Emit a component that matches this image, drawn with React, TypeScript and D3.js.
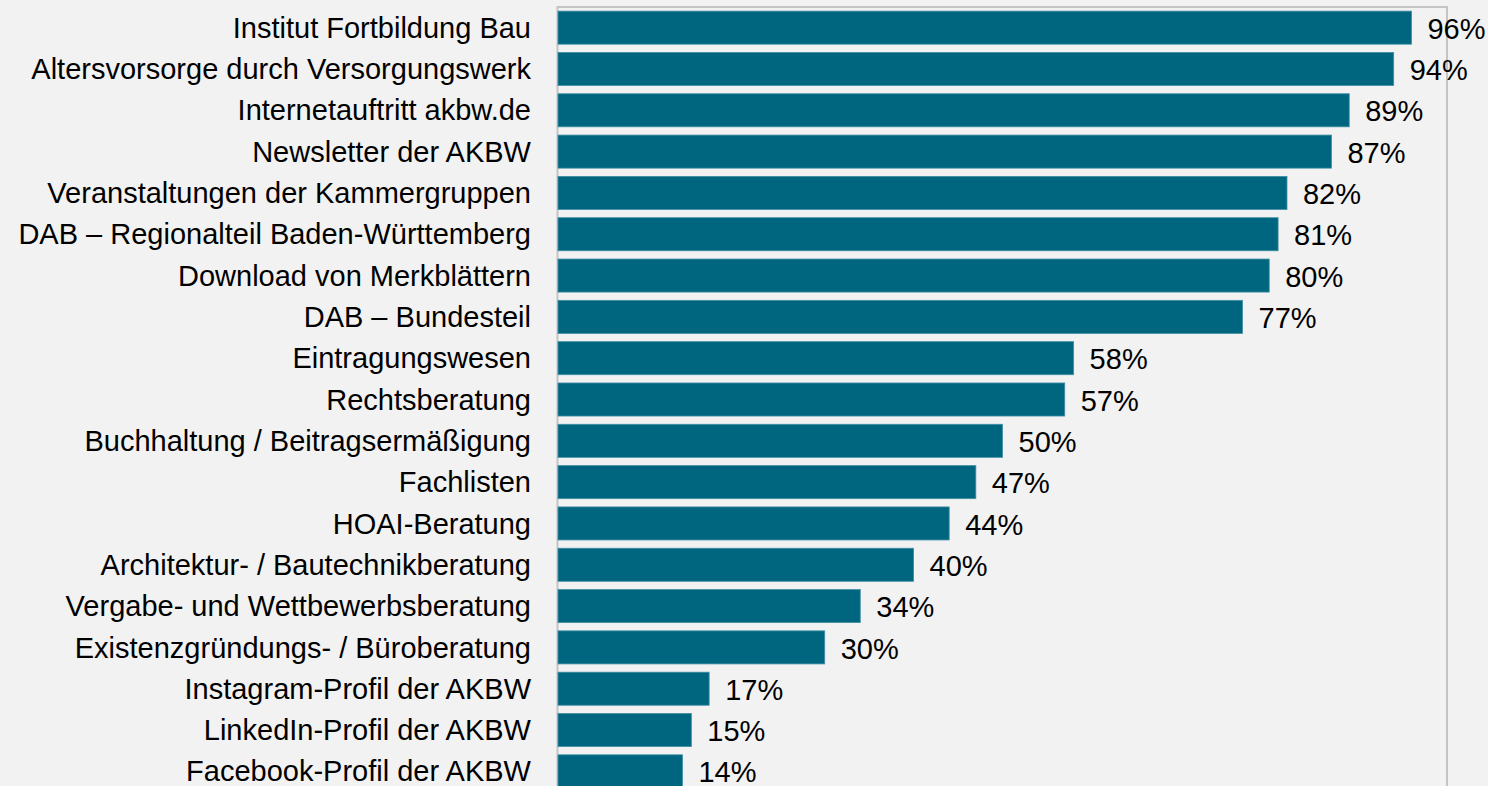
import React from "react";
import * as d3 from "d3";

const categories = [
  "Institut Fortbildung Bau",
  "Altersvorsorge durch Versorgungswerk",
  "Internetauftritt akbw.de",
  "Newsletter der AKBW",
  "Veranstaltungen der Kammergruppen",
  "DAB – Regionalteil Baden-Württemberg",
  "Download von Merkblättern",
  "DAB – Bundesteil",
  "Eintragungswesen",
  "Rechtsberatung",
  "Buchhaltung / Beitragsermäßigung",
  "Fachlisten",
  "HOAI-Beratung",
  "Architektur- / Bautechnikberatung",
  "Vergabe- und Wettbewerbsberatung",
  "Existenzgründungs- / Büroberatung",
  "Instagram-Profil der AKBW",
  "LinkedIn-Profil der AKBW",
  "Facebook-Profil der AKBW",
];
const values = [96, 94, 89, 87, 82, 81, 80, 77, 58, 57, 50, 47, 44, 40, 34, 30, 17, 15, 14];

const W = 1488;
const H = 786;
const plotLeft = 558;
const plotRight = 1447;
const plotTop = 7;
const plotBottom = 792;

export default function App() {
  const x = d3.scaleLinear().domain([0, 100]).range([plotLeft, plotRight]);
  const y = d3
    .scaleBand<string>()
    .domain(categories)
    .range([plotTop, plotBottom])
    .paddingInner(0.2)
    .paddingOuter(0.1);
  const font = "'Liberation Sans', Arial, sans-serif";
  return (
    <div style={{ position: "absolute", left: 0, top: 0, width: W, height: H, background: "#f2f2f2" }}>
      <svg width={W} height={H} style={{ display: "block" }}>
        <rect x={0} y={0} width={W} height={H} fill="#f2f2f2" />
        <rect
          x={plotLeft - 0.5}
          y={plotTop}
          width={plotRight - plotLeft + 0.5}
          height={plotBottom - plotTop}
          fill="none"
          stroke="#c4c4c4"
          strokeWidth={2}
        />
        {categories.map((c, i) => {
          const yy = y(c)!;
          const bh = y.bandwidth();
          return (
            <g key={c}>
              <rect
                x={x(0)}
                y={yy}
                width={x(values[i]) - x(0)}
                height={bh}
                fill="#006680"
                stroke="#3f8ea3"
                strokeWidth={0.8}
              />
              <text
                x={531}
                y={yy + bh / 2}
                dy="0.35em"
                textAnchor="end"
                fontFamily={font}
                fontSize={29}
                fill="#000"
              >
                {c}
              </text>
              <text
                x={x(values[i]) + 16}
                y={yy + bh / 2 + 1}
                dy="0.35em"
                textAnchor="start"
                fontFamily={font}
                fontSize={29}
                fill="#000"
              >
                {values[i]}%
              </text>
            </g>
          );
        })}
      </svg>
    </div>
  );
}
